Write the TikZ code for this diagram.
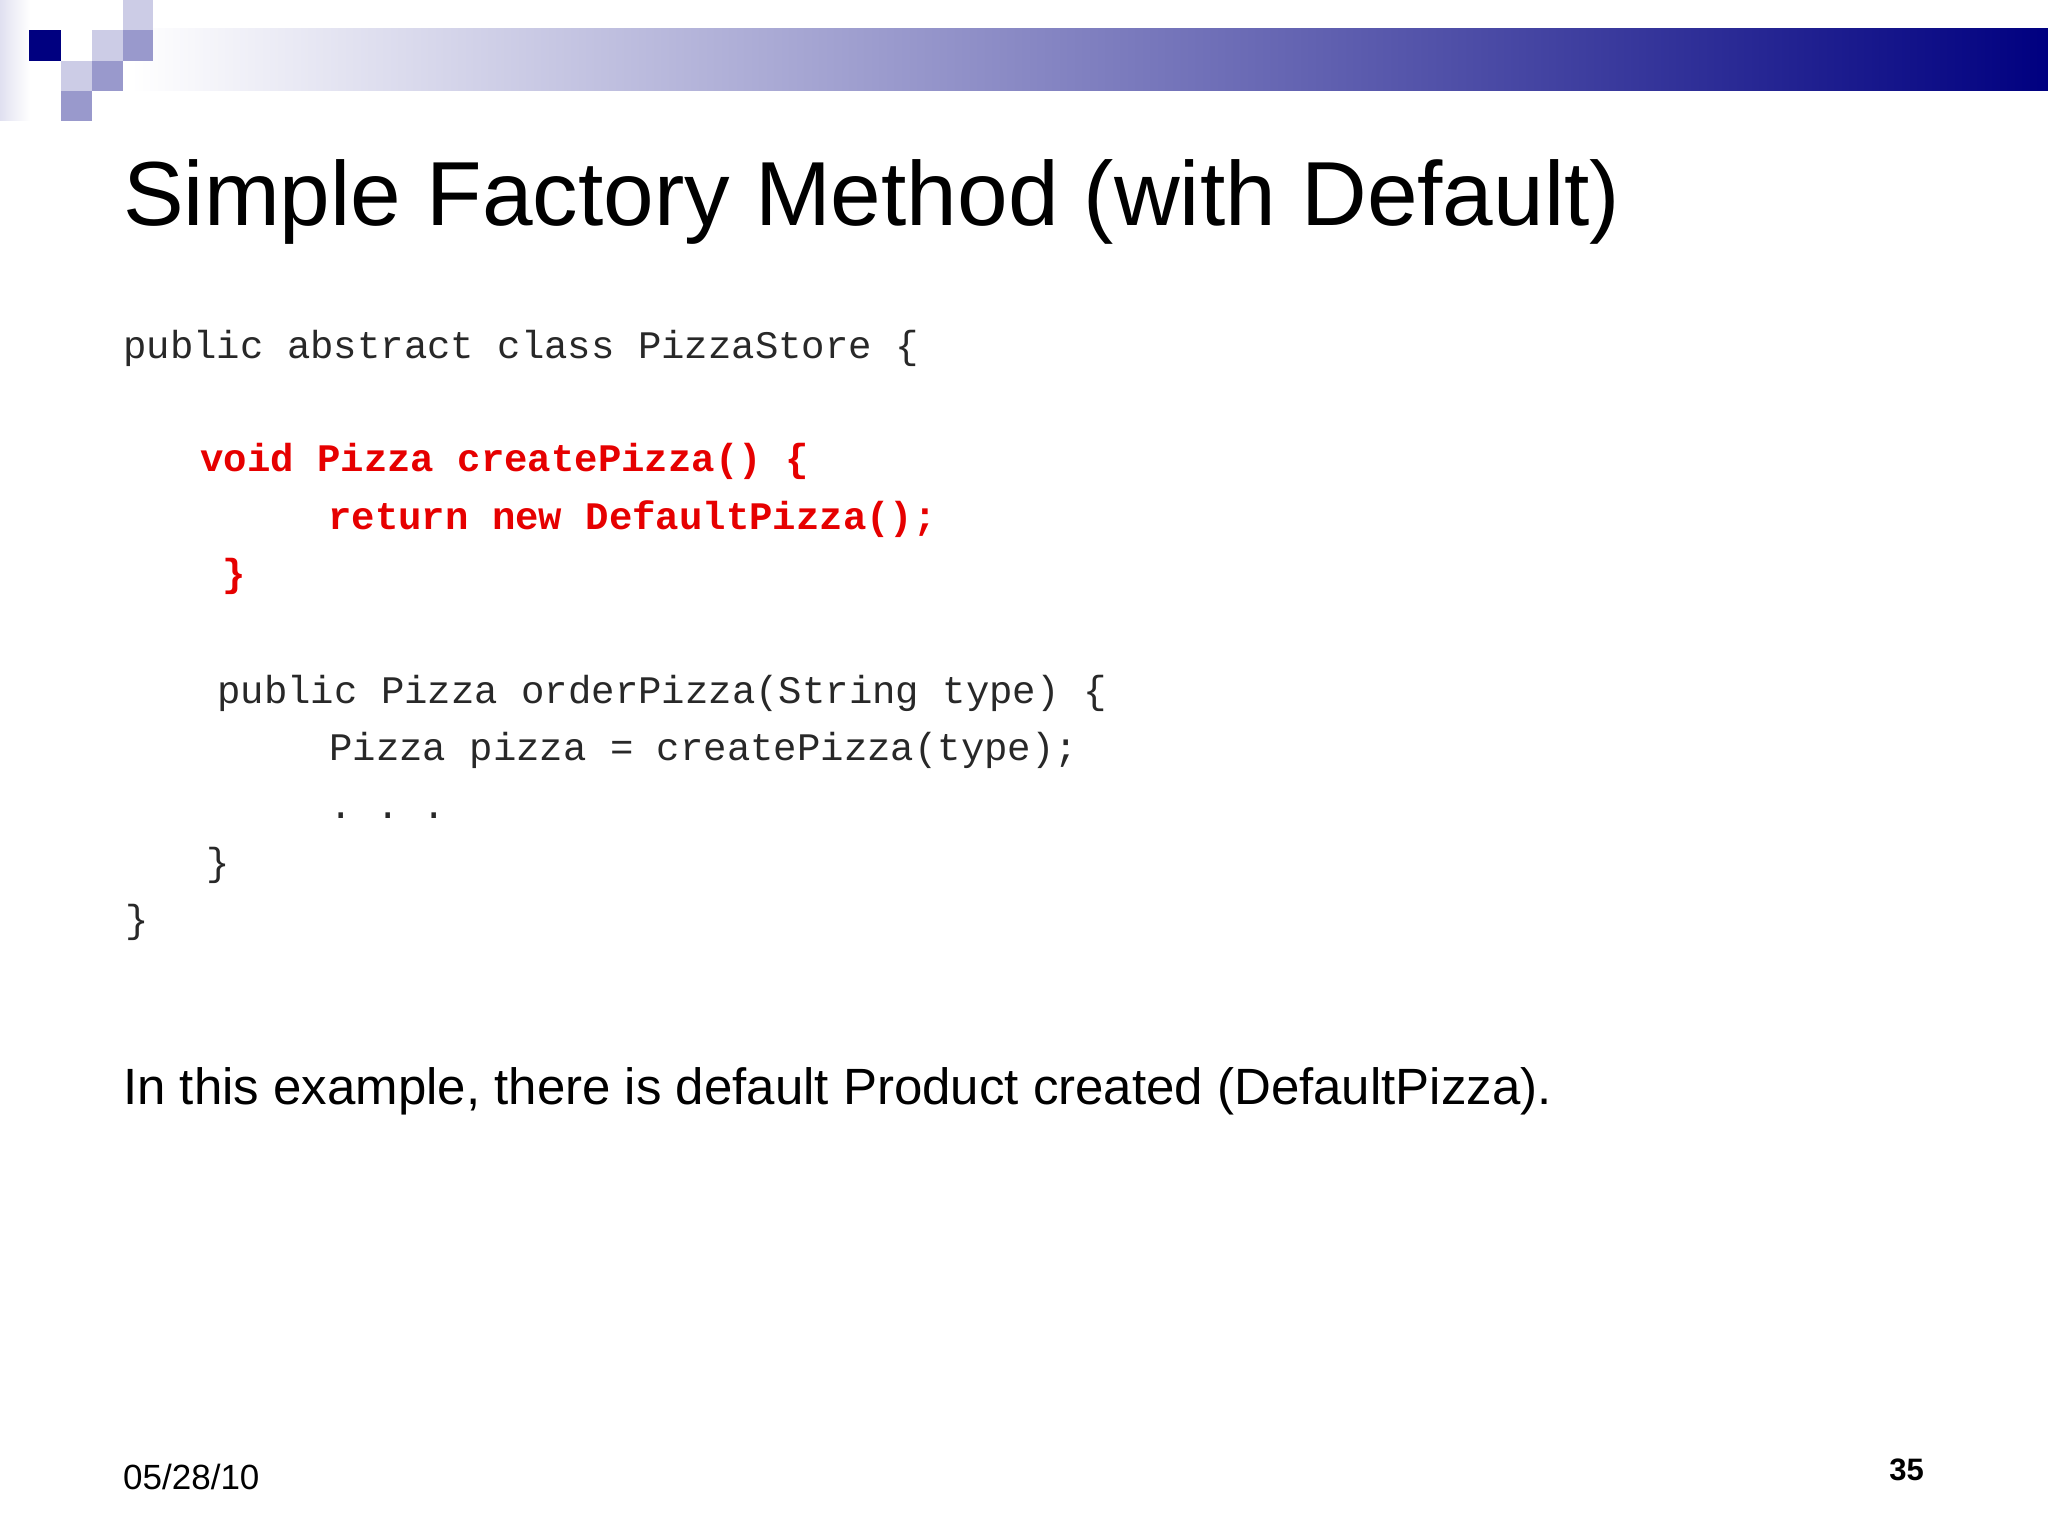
\documentclass[tikz,border=0pt]{standalone}
\usepackage{fontspec}
\setmainfont{Liberation Sans}
\setmonofont{Liberation Mono}
\definecolor{navy}{RGB}{0,0,128}
\definecolor{lav}{RGB}{204,204,230}
\definecolor{mlav}{RGB}{153,153,204}
\definecolor{codered}{RGB}{230,0,0}
\definecolor{codegray}{RGB}{40,40,40}
\tikzset{
  code/.style={anchor=base west, inner sep=0, font=\fontsize{39}{46}\selectfont\ttfamily, text=codegray},
  redcode/.style={code, font=\fontsize{39}{46}\selectfont\ttfamily\bfseries, text=codered},
  sq/.style={draw=none}
}
\begin{document}
\begin{tikzpicture}[x=1pt,y=-1pt]
\useasboundingbox (0,0) rectangle (2048,1536);
\fill[white] (0,0) rectangle (2048,1536);
\shade[left color=white, right color=navy] (131,29) rectangle (2048,91);
\shade[left color=lav!60, right color=white] (0,0) rectangle (30,121);
\fill[lav] (123,0) rectangle (153,30);
\fill[lav] (92,30) rectangle (123,61);
\fill[mlav] (123,30) rectangle (153,61);
\fill[lav] (61,61) rectangle (92,91);
\fill[mlav] (92,61) rectangle (123,91);
\fill[mlav] (61,91) rectangle (92,121);
\fill[navy] (29,30) rectangle (61,61);
\node[anchor=base west, inner sep=0, font=\fontsize{91}{100}\selectfont] (title) at (123,225) {Simple Factory Method (with Default)};
\node[code] (l1) at (123,358) {public abstract class PizzaStore \{};
\node[redcode] (l2) at (200,471) {void Pizza createPizza() \{};
\node[redcode] (l3) at (328,529) {return new DefaultPizza();};
\node[redcode] (l4) at (222,586) {\}};
\node[code] (l5) at (217,703) {public Pizza orderPizza(String type) \{};
\node[code] (l6) at (329,760) {Pizza pizza = createPizza(type);};
\node[code] (l7) at (329,818) {\obeyspaces. . .};
\node[code] (l8) at (206,875) {\}};
\node[code] (l9) at (125,932) {\}};
\node[anchor=base west, inner sep=0, font=\fontsize{51}{60}\selectfont] (body) at (123,1104) {In this example, there is default Product created (DefaultPizza).};
\node[anchor=base west, inner sep=0, font=\fontsize{35}{40}\selectfont] (date) at (123,1489) {05/28/10};
\node[anchor=base east, inner sep=0, font=\fontsize{31}{36}\selectfont\bfseries] (page) at (1924,1480) {35};
\end{tikzpicture}
\end{document}
